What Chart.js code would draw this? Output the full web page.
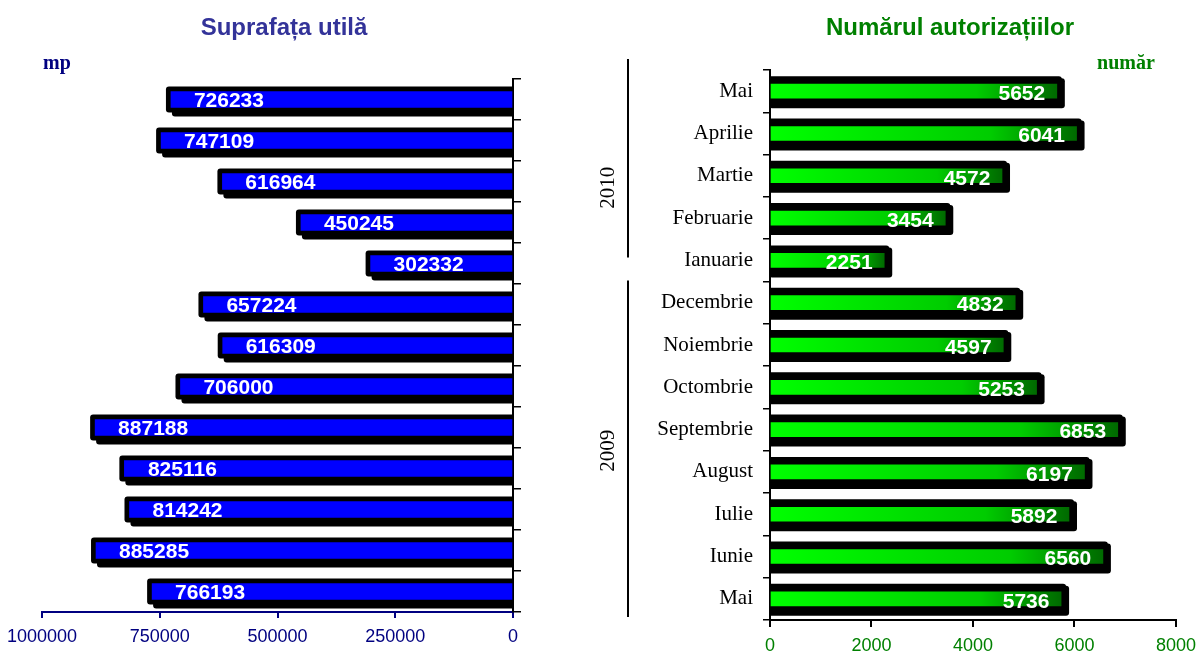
<!DOCTYPE html>
<html>
<head>
<meta charset="utf-8">
<script src="https://cdn.jsdelivr.net/npm/chart.js@4.4.1/dist/chart.umd.min.js"></script>
<style>
  html, body { margin: 0; padding: 0; background: #fff; }
  #wrap { position: relative; width: 1204px; height: 653px; overflow: hidden; }
  canvas { position: absolute; top: 0; }
  #leftChart { left: 0; }
  #rightChart { left: 600px; }
  .txt { position: absolute; white-space: nowrap; transform: translate(-50%, -50%); }
  .title { font: bold 24px "Liberation Sans", Arial, sans-serif; }
  .unit { font: bold 20px "Liberation Serif", "Times New Roman", serif; }
</style>
</head>
<body>
<div id="wrap">
  <canvas id="leftChart" width="600" height="653"></canvas>
  <canvas id="rightChart" width="604" height="653"></canvas>
  <div class="txt title" style="left:284px; top:27px; color:#333399;">Suprafața utilă</div>
  <div class="txt title" style="left:950px; top:27px; color:#008000;">Numărul autorizațiilor</div>
  <div class="txt unit" style="left:57px; top:62px; color:#000080;">mp</div>
  <div class="txt unit" style="left:1126px; top:62px; color:#008000;">număr</div>
</div>
<script>
// months from Mai 2010 (top) down to Mai 2009 (bottom)
const months = ['Mai', 'Aprilie', 'Martie', 'Februarie', 'Ianuarie', 'Decembrie', 'Noiembrie',
  'Octombrie', 'Septembrie', 'August', 'Iulie', 'Iunie', 'Mai'];
const yearGroups = [
  { label: '2010', first: 0, last: 4 },
  { label: '2009', first: 5, last: 12 }
];
const suprafata = [726233, 747109, 616964, 450245, 302332, 657224, 616309, 706000, 887188, 825116, 814242, 885285, 766193];
const autorizatii = [5652, 6041, 4572, 3454, 2251, 4832, 4597, 5253, 6853, 6197, 5892, 6560, 5736];
const suprafataTicks = [0, 250000, 500000, 750000, 1000000];
const autorizatiiTicks = [0, 2000, 4000, 6000, 8000];

function roundRect(ctx, x, y, w, h, r) {
  ctx.beginPath();
  ctx.moveTo(x + r, y);
  ctx.lineTo(x + w - r, y);
  ctx.quadraticCurveTo(x + w, y, x + w, y + r);
  ctx.lineTo(x + w, y + h - r);
  ctx.quadraticCurveTo(x + w, y + h, x + w - r, y + h);
  ctx.lineTo(x + r, y + h);
  ctx.quadraticCurveTo(x, y + h, x, y + h - r);
  ctx.lineTo(x, y + r);
  ctx.quadraticCurveTo(x, y, x + r, y);
  ctx.closePath();
  ctx.fill();
}

// black box + shadow behind each bar (the 3D look)
const frame3d = {
  id: 'frame3d',
  beforeDatasetsDraw(chart, args, opts) {
    const ctx = chart.ctx, a = chart.chartArea;
    ctx.save();
    ctx.beginPath();
    ctx.rect(a.left, a.top - 10, a.right - a.left, a.bottom - a.top + 10);
    ctx.clip();
    ctx.fillStyle = '#000';
    chart.getDatasetMeta(0).data.forEach(bar => {
      const x1 = Math.min(bar.x, bar.base), x2 = Math.max(bar.x, bar.base);
      const top = bar.y - bar.height / 2, p = opts.pad, ph = opts.padX;
      roundRect(ctx, x1 - ph + opts.dx, top - p + opts.dy, x2 - x1 + 2 * ph, bar.height + 2 * p, 3);
      roundRect(ctx, x1 - ph, top - p, x2 - x1 + 2 * ph, bar.height + 2 * p, 3);
    });
    ctx.restore();
  }
};

const valueLabels = {
  id: 'valueLabels',
  afterDatasetsDraw(chart, args, opts) {
    const ctx = chart.ctx;
    const data = chart.data.datasets[0].data;
    ctx.save();
    ctx.font = 'bold 21px "Liberation Sans", Arial, sans-serif';
    ctx.fillStyle = '#fff';
    ctx.textAlign = 'center';
    ctx.textBaseline = 'middle';
    chart.getDatasetMeta(0).data.forEach((bar, i) => {
      ctx.fillText(String(data[i]), bar.x + opts.dx, bar.y + opts.dy);
    });
    ctx.restore();
  }
};

// year brackets on the left of the month labels
const yearBrackets = {
  id: 'yearBrackets',
  afterDraw(chart) {
    const ctx = chart.ctx, y = chart.scales.y;
    const half = (y.getPixelForValue(1) - y.getPixelForValue(0)) / 2;
    ctx.save();
    ctx.strokeStyle = '#000';
    ctx.lineWidth = 2;
    ctx.fillStyle = '#000';
    ctx.font = '21px "Liberation Serif", "Times New Roman", serif';
    ctx.textAlign = 'center';
    ctx.textBaseline = 'middle';
    yearGroups.forEach((g, i) => {
      const top = y.getPixelForValue(g.first) - half;
      const bottom = y.getPixelForValue(g.last) + half;
      const y1 = i === 0 ? top - 11 : top - 1;
      const y2 = i === yearGroups.length - 1 ? bottom - 3 : bottom - 24;
      ctx.beginPath();
      ctx.moveTo(28, y1);
      ctx.lineTo(28, y2);
      ctx.stroke();
      ctx.save();
      ctx.translate(8, (top + bottom) / 2 + (i === 0 ? 12 : 0));
      ctx.rotate(-Math.PI / 2);
      ctx.fillText(g.label, 0, 0);
      ctx.restore();
    });
    ctx.restore();
  }
};

const sansFont = { family: '"Liberation Sans", Arial, sans-serif', size: 18 };
const plainNumber = v => String(v);

new Chart(document.getElementById('leftChart'), {
  type: 'bar',
  data: {
    labels: months,
    datasets: [{
      data: suprafata,
      backgroundColor: '#0000ff',
      barThickness: 16,
      borderSkipped: false
    }]
  },
  options: {
    indexAxis: 'y',
    responsive: false,
    animation: false,
    layout: { padding: { left: 42, right: 67, top: 79, bottom: 0 } },
    plugins: {
      legend: { display: false },
      tooltip: { enabled: false },
      frame3d: { pad: 5, padX: 5, dx: 6, dy: 4 },
      valueLabels: { dx: 58, dy: 2 }
    },
    scales: {
      x: {
        reverse: true,
        min: suprafataTicks[0],
        max: suprafataTicks[suprafataTicks.length - 1],
        afterBuildTicks: s => { s.ticks = suprafataTicks.map(v => ({ value: v })); },
        afterFit: s => { s.height = 41; },
        ticks: { color: '#000080', font: sansFont, padding: 8, maxRotation: 0, callback: plainNumber },
        grid: { drawOnChartArea: false, color: '#000080', lineWidth: 2, tickLength: 6 },
        border: { color: '#000080', width: 2 }
      },
      y: {
        position: 'right',
        afterFit: s => { s.width = 20; },
        ticks: { display: false },
        grid: { drawOnChartArea: false, offset: true, color: '#000', lineWidth: 1.5, tickLength: 8 },
        border: { color: '#000', width: 2 }
      }
    }
  },
  plugins: [frame3d, valueLabels]
});

new Chart(document.getElementById('rightChart'), {
  type: 'bar',
  data: {
    labels: months,
    datasets: [{
      data: autorizatii,
      barThickness: 14,
      borderSkipped: false,
      backgroundColor(c) {
        const chart = c.chart;
        if (!chart.chartArea || c.type !== 'data') return '#00dd00';
        const xs = chart.scales.x;
        const x0 = xs.getPixelForValue(0), x1 = xs.getPixelForValue(c.raw);
        const g = chart.ctx.createLinearGradient(x0, 0, x1, 0);
        g.addColorStop(0, '#00ff00');
        g.addColorStop(0.72, '#00cc00');
        g.addColorStop(1, '#006a00');
        return g;
      }
    }]
  },
  options: {
    indexAxis: 'y',
    responsive: false,
    animation: false,
    layout: { padding: { left: 0, right: 21, top: 70, bottom: 0 } },
    plugins: {
      legend: { display: false },
      tooltip: { enabled: false },
      frame3d: { pad: 8, padX: 5, dx: 3, dy: 2 },
      valueLabels: { dx: -35, dy: 3 }
    },
    scales: {
      x: {
        min: autorizatiiTicks[0],
        max: autorizatiiTicks[autorizatiiTicks.length - 1],
        afterBuildTicks: s => { s.ticks = autorizatiiTicks.map(v => ({ value: v })); },
        afterFit: s => { s.height = 33; },
        ticks: { color: '#008000', font: sansFont, padding: 8, maxRotation: 0, callback: plainNumber },
        grid: { drawOnChartArea: false, color: '#000', lineWidth: 2, tickLength: 7 },
        border: { color: '#000', width: 2 }
      },
      y: {
        position: 'left',
        afterFit: s => { s.width = 170; },
        ticks: {
          color: '#000',
          font: { family: '"Liberation Serif", "Times New Roman", serif', size: 21 },
          padding: 10
        },
        grid: { drawOnChartArea: false, offset: true, color: '#000', lineWidth: 1.5, tickLength: 7 },
        border: { color: '#000', width: 2 }
      }
    }
  },
  plugins: [frame3d, valueLabels, yearBrackets]
});
</script>
</body>
</html>
